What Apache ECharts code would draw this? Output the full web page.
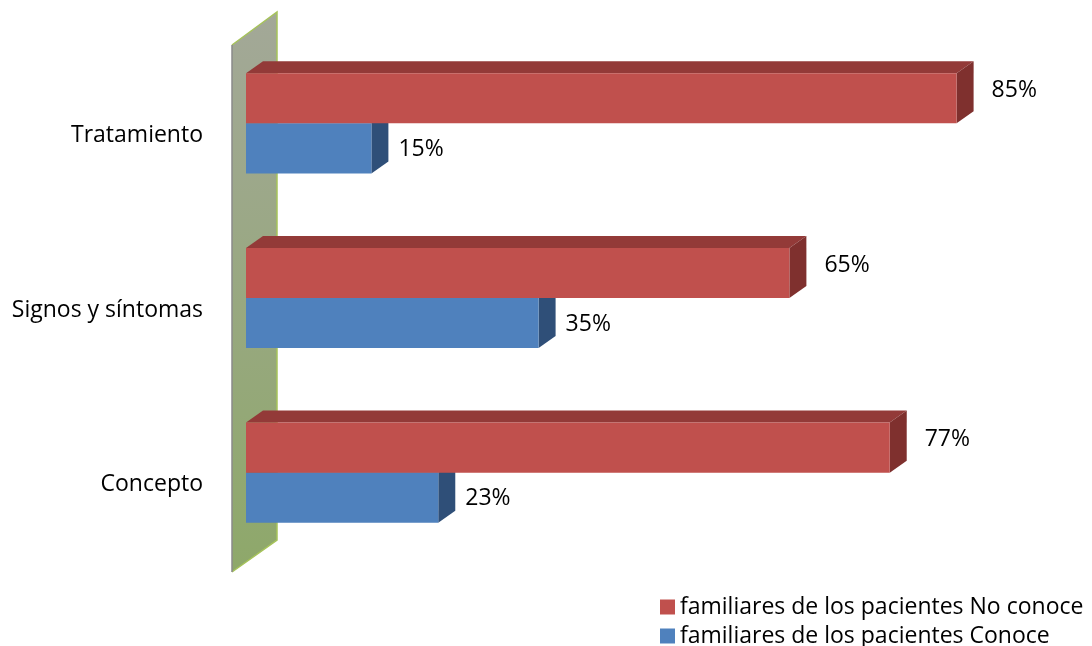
<!DOCTYPE html>
<html><head><meta charset="utf-8">
<script src="https://cdn.jsdelivr.net/npm/echarts@6/dist/echarts.min.js"></script>
<style>html,body{margin:0;padding:0;background:#fff}#c{width:1092px;height:646px}</style>
</head><body><div id="c"></div>
<script>
var categories = ['Concepto', 'Signos y síntomas', 'Tratamiento'];
var noConoce = [77, 65, 85];
var conoce = [23, 35, 15];
var seriesNames = ['familiares de los pacientes No conoce', 'familiares de los pacientes Conoce'];

var FONT = 'Open Sans';
var FS = 23;
var DX = 17, DY = 12;

function makeRender(pos, front, top, side, labelDx, labelDy) {
  return function (params, api) {
    var cat = api.value(1), val = api.value(0);
    var c0 = api.coord([0, cat]);
    var c1 = api.coord([val, cat]);
    var band = api.size([0, 1])[1];
    var h = band * 0.2865;
    var y0 = pos < 0 ? c0[1] - h : c0[1];
    var y1 = y0 + h;
    var x0 = c0[0], x1 = c1[0];
    return {
      type: 'group',
      children: [
        { type: 'polygon', shape: { points: [[x0, y0], [x0 + DX, y0 - DY], [x1 + DX, y0 - DY], [x1, y0]] }, style: { fill: top } },
        { type: 'polygon', shape: { points: [[x1, y0], [x1 + DX, y0 - DY], [x1 + DX, y1 - DY], [x1, y1]] }, style: { fill: side } },
        { type: 'rect', shape: { x: x0, y: y0, width: x1 - x0, height: h }, style: { fill: front } },
        { type: 'text', x: x1 + labelDx, y: (y0 + y1) / 2 + labelDy,
          style: { text: val + '%', fill: '#000', font: FS + 'px "' + FONT + '"', align: 'left', verticalAlign: 'middle' } }
      ]
    };
  };
}

function legendAt(name, top) {
  return {
    orient: 'vertical', left: 655, top: top,
    itemWidth: 15, itemHeight: 15, icon: 'rect',
    textStyle: { fontSize: FS, fontFamily: FONT, color: '#000', lineHeight: 24 },
    data: [name]
  };
}

var chart = echarts.init(document.getElementById('c'), null, { renderer: 'canvas' });
chart.setOption({
  animation: false,
  textStyle: { fontFamily: FONT },
  grid: { left: 246, right: 10, top: 36, bottom: 86 },
  xAxis: { type: 'value', min: 0, max: 100, show: false },
  yAxis: {
    type: 'category', data: categories,
    axisLine: { show: false }, axisTick: { show: false },
    axisLabel: { color: '#000', fontSize: FS, fontFamily: FONT, margin: 43, lineHeight: 24,
      formatter: function (v) { return '\n' + v; } }
  },
  graphic: [
    { type: 'polygon', z: -10, shape: { points: [[232, 45], [277, 12], [277, 540], [232, 572]] },
      style: { fill: new echarts.graphic.LinearGradient(0, 0, 0, 1, [{ offset: 0, color: '#a3a898' }, { offset: 1, color: '#8ea86a' }]) } },
    { type: 'polyline', z: -9, shape: { points: [[232, 45], [277, 12], [277, 540], [232, 572]] },
      style: { stroke: '#a6c35a', lineWidth: 1.5, fill: null } },
    { type: 'line', z: -9, shape: { x1: 232, y1: 45, x2: 232, y2: 572 }, style: { stroke: '#8a8a8a', lineWidth: 1.5 } }
  ],
  legend: [legendAt(seriesNames[0], 590), legendAt(seriesNames[1], 619)],
  series: [
    { type: 'custom', name: seriesNames[1], itemStyle: { color: '#4F81BD' },
      data: conoce.map(function (v, i) { return [v, i]; }),
      encode: { x: 0, y: 1 },
      renderItem: makeRender(1, '#4F81BD', '#3d6496', '#2f4f78', 27, 1) },
    { type: 'custom', name: seriesNames[0], itemStyle: { color: '#C0504D' },
      data: noConoce.map(function (v, i) { return [v, i]; }),
      encode: { x: 0, y: 1 },
      renderItem: makeRender(-1, '#C0504D', '#933a38', '#7f302e', 35, -8) }
  ]
});
</script></body></html>
